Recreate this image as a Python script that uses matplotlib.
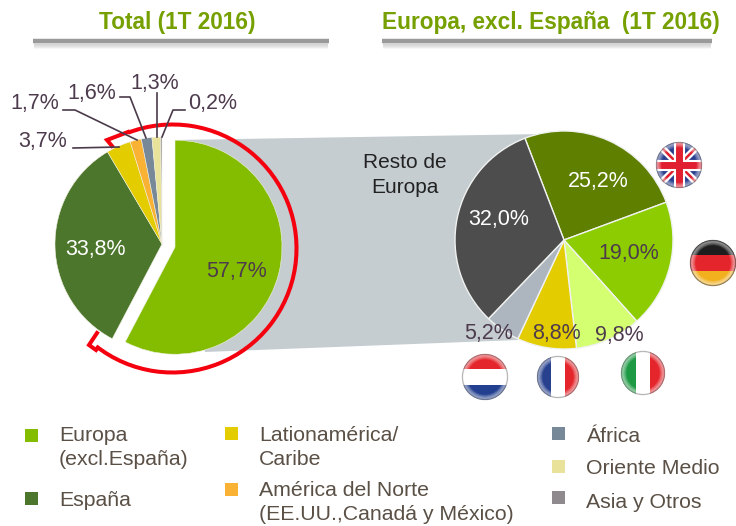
#!/usr/bin/env python
import matplotlib
matplotlib.use('Agg')
import matplotlib.pyplot as plt
from matplotlib.patches import Arc, Circle, Polygon, Rectangle

plt.rcParams['font.family'] = ['Liberation Sans', 'DejaVu Sans']

# ------------------------------------------------------------------ #
#  Data
# ------------------------------------------------------------------ #
total_names = ['Europa\n(excl.España)', 'España', 'Lationamérica/\nCaribe',
               'América del Norte\n(EE.UU.,Canadá y México)', 'África',
               'Oriente Medio', 'Asia y Otros']
total_vals = [57.7, 33.8, 3.7, 1.7, 1.6, 1.3, 0.2]
total_cols = ['#84BD00', '#4C762B', '#E3CC00', '#F9B233', '#778899', '#E9E29A', '#8F8A8E']
total_lbls = ['57,7%', '33,8%', '3,7%', '1,7%', '1,6%', '1,3%', '0,2%']

europe_vals = [25.2, 19.0, 9.8, 8.8, 5.2, 32.0]
europe_cols = ['#5F7F00', '#8CCC00', '#D4FF70', '#E3CC00', '#ADB5BF', '#4D4D4D']
europe_lbls = ['25,2%', '19,0%', '9,8%', '8,8%', '5,2%', '32,0%']

TXT = '#4D3B4D'
LEG = '#5A5046'
GREEN = '#76A000'


def Y(y):
    # reference pixel rows run downwards
    return 526 - y


fig = plt.figure(figsize=(7.36, 5.26), dpi=100)
ax = fig.add_axes([0, 0, 1, 1])

# ------------------------------------------------------------------ #
#  Titles and rules
# ------------------------------------------------------------------ #
ax.text(177, Y(22), 'Total (1T 2016)', color=GREEN, fontsize=16.3, fontweight='bold',
        ha='center', va='center')
ax.text(550.5, Y(22), 'Europa, excl. España  (1T 2016)', color=GREEN, fontsize=16.3,
        fontweight='bold', ha='center', va='center')
for x0, x1 in [(33, 329), (382, 712)]:
    for k in range(5):
        ax.plot([x0 + 1, x1 - 1], [Y(44 + k)] * 2, color='0.45', lw=1.2, alpha=0.22 - 0.04 * k,
                solid_capstyle='butt', zorder=1)
    ax.plot([x0, x1], [Y(41)] * 2, color='#9A9A9A', lw=3.2, solid_capstyle='butt', zorder=2)

# ------------------------------------------------------------------ #
#  Band joining the two pies
# ------------------------------------------------------------------ #
band = [(175, 140), (545, 134), (564, 239), (518, 340), (205, 352)]
ax.add_patch(Polygon([(x, Y(y)) for x, y in band], fc='#C5CDD1', ec='none', zorder=0.5))

# ------------------------------------------------------------------ #
#  Pies (explode is in data units here, so pixels)
# ------------------------------------------------------------------ #
ax.pie(total_vals, colors=total_cols, center=(162, Y(244)), radius=107,
       startangle=90, counterclock=False, frame=True,
       explode=[13.4, 0, 0, 0, 0, 0, 0],
       wedgeprops=dict(lw=0.4, ec='#EFEFE0', zorder=2))
ax.pie(europe_vals, colors=europe_cols, center=(564, Y(240)), radius=109,
       startangle=111, counterclock=False, frame=True,
       wedgeprops=dict(lw=1.0, ec='#F0F2F0', zorder=2))

# red outline around the exploded slice
RED = '#F5000F'
ax.add_patch(Arc((172.5, Y(248.5)), 248, 248, theta1=-128, theta2=111, color=RED, lw=2.9, zorder=1.5))
ax.plot([128, 107, 112], [Y(132), Y(140), Y(146)], color=RED, lw=2.9, zorder=1.5,
        solid_joinstyle='miter')
ax.plot([97, 89, 96], [Y(333), Y(345), Y(350)], color=RED, lw=2.9, zorder=1.5,
        solid_joinstyle='miter')

# ------------------------------------------------------------------ #
#  Value labels
# ------------------------------------------------------------------ #
total_pos = [(237, 271), (95, 249), (43, 141), (35, 104), (92, 93), (155, 83), (213, 104)]
total_txt = [TXT, 'white', TXT, TXT, TXT, TXT, TXT]
for s, (x, y), c in zip(total_lbls, total_pos, total_txt):
    ax.text(x, Y(y), s, color=c, fontsize=15.5, ha='center', va='center', zorder=5)

leaders = [[(73, 148), (119, 147)],
           [(63, 110), (75, 110), (137, 140)],
           [(120, 97), (130, 97), (146, 138)],
           [(157, 93), (157, 137)],
           [(185, 110), (173, 110), (162, 137)]]
for pts in leaders:
    ax.plot([p[0] for p in pts], [Y(p[1]) for p in pts], color='#4B3A4A', lw=1.2, zorder=4)

europe_pos = [(598, 182), (629, 254), (619, 335), (556, 334), (489, 333), (499, 219)]
europe_txt = ['white', TXT, TXT, TXT, TXT, 'white']
for s, (x, y), c in zip(europe_lbls, europe_pos, europe_txt):
    ax.text(x, Y(y), s, color=c, fontsize=15.5, ha='center', va='center', zorder=5)

ax.text(405, Y(175), 'Resto de\nEuropa', color='#222222', fontsize=15, ha='center',
        va='center', linespacing=1.42, zorder=5)


# ------------------------------------------------------------------ #
#  Flags
# ------------------------------------------------------------------ #
def flag(cx, cy, r, stripes=None, vertical=False):
    clip = Circle((cx, Y(cy)), r, transform=ax.transData)
    ax.add_patch(Circle((cx, Y(cy)), r, fc='white', ec='none', zorder=3))
    if stripes:
        n = len(stripes)
        for i, c in enumerate(stripes):
            if vertical:
                p = Rectangle((cx - r + 2 * r * i / n, Y(cy) - r), 2 * r / n, 2 * r, fc=c, ec='none', zorder=3.1)
            else:
                p = Rectangle((cx - r, Y(cy) + r - 2 * r * (i + 1) / n), 2 * r, 2 * r / n, fc=c, ec='none', zorder=3.1)
            ax.add_patch(p)
            p.set_clip_path(clip)
    return clip


def rim(cx, cy, r, col='0.5'):
    # grey edge that fades into a pale inner glow
    ax.add_patch(Circle((cx, Y(cy)), r - 0.5, fc='none', ec=col, lw=1.0, alpha=0.6, zorder=3.5))
    for k in range(4):
        ax.add_patch(Circle((cx, Y(cy)), r - 1.5 - k, fc='none', ec='white', lw=1.1,
                            alpha=0.4 - 0.09 * k, zorder=3.5))


# United Kingdom
clip = flag(679, 165, 23, ['#2A3F8F'])
for xs, ys, c, w in [([656, 702], [142, 188], 'white', 5.0), ([656, 702], [188, 142], 'white', 5.0),
                     ([656, 702], [142, 188], '#E02030', 1.8), ([656, 702], [188, 142], '#E02030', 1.8),
                     ([679, 679], [142, 188], 'white', 8.0), ([656, 702], [165, 165], 'white', 8.0),
                     ([679, 679], [142, 188], '#E02030', 5.0), ([656, 702], [165, 165], '#E02030', 5.0)]:
    ln, = ax.plot(xs, [Y(v) for v in ys], color=c, lw=w, solid_capstyle='butt', zorder=3.2)
    ln.set_clip_path(clip)
rim(679, 165, 23)

flag(713, 263, 23, ['#1E1E1E', '#E4262C', '#F2B01E'])
rim(713, 263, 23, '0.3')
flag(485, 377, 23, ['#E4262C', 'white', '#22408F'])
rim(485, 377, 23)
flag(558, 377, 21, ['#27418F', 'white', '#E4262C'], vertical=True)
rim(558, 377, 21)
flag(643, 373, 22, ['#1E9A45', 'white', '#E4262C'], vertical=True)
rim(643, 373, 22)

# ------------------------------------------------------------------ #
#  Legend
# ------------------------------------------------------------------ #
leg_sq = [(31.5, 435), (31.5, 498), (231.5, 433), (231.5, 489), (558.5, 433), (558.5, 466), (558.5, 497)]
leg_txt = [(59, 447.5), (59, 501), (259, 447.5), (259, 502.5), (586, 437), (586, 469), (586, 503)]
for name, c, (sx, sy), (tx, ty) in zip(total_names, total_cols, leg_sq, leg_txt):
    ax.add_patch(Rectangle((sx - 6.5, Y(sy) - 6.5), 13, 13, fc=c, ec='none'))
    ax.text(tx, Y(ty), name, color=LEG, fontsize=15.3, ha='left', va='center', linespacing=1.35)

ax.set_xlim(0, 736)
ax.set_ylim(0, 526)
ax.set_aspect('auto')
ax.axis('off')
fig.savefig('out.png', dpi=100)
